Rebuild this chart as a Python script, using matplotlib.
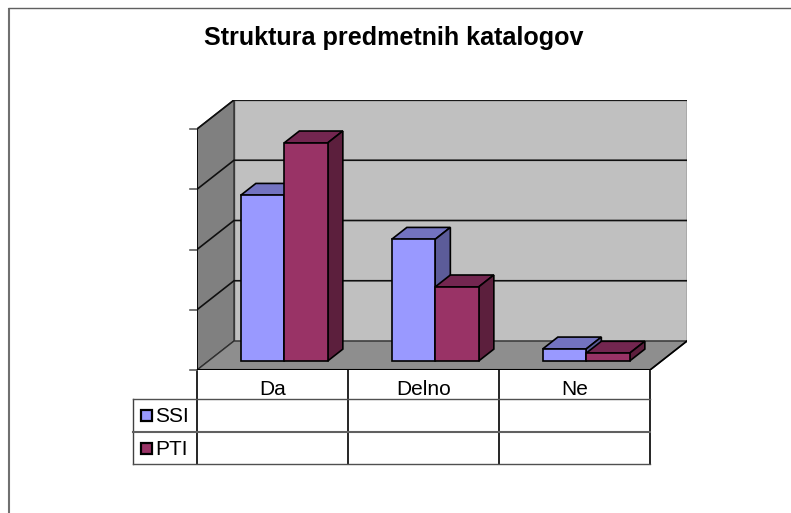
import matplotlib
matplotlib.use('Agg')
import matplotlib.pyplot as plt
from matplotlib.patches import Polygon, Rectangle

plt.rcParams['font.family'] = ['Liberation Sans', 'DejaVu Sans']

# Values (the value axis has no labels)
categories = ['Da', 'Delno', 'Ne']
series_names = ['SSI', 'PTI']
ssi = [27.5, 20.2, 2.0]
pti = [36.2, 12.3, 1.3]
grid_values = [0, 10, 20, 30, 40]

# Colours: front, top, side
ssi_colors = ('#9999FF', '#7373C0', '#5C5C99')
pti_colors = ('#993366', '#732650', '#5C1F3D')

# Oblique projection: depth 1 moves this far in data units
depth_dx = 37 / 151
depth_dy = 29 / 6.025
bar_depth_front = 0.31
bar_depth_back = 0.72
bar_offset = 32.2 / 151
bar_width = 43.5 / 151


def proj(x, y, d=0.0):
    return (x + d * depth_dx, y + d * depth_dy)


def quad(ax, pts, color, ec='black', lw=1.2, z=1):
    ax.add_patch(Polygon(pts, closed=True, facecolor=color, edgecolor=ec,
                         linewidth=lw, joinstyle='miter', zorder=z))


def draw_bar(ax, x0, value, colors, z):
    x1 = x0 + bar_width
    d0, d1 = bar_depth_front, bar_depth_back
    quad(ax, [proj(x0, value, d0), proj(x1, value, d0), proj(x1, value, d1), proj(x0, value, d1)], colors[1], z=z)
    quad(ax, [proj(x1, 0, d0), proj(x1, value, d0), proj(x1, value, d1), proj(x1, 0, d1)], colors[2], z=z)
    quad(ax, [proj(x0, 0, d0), proj(x1, 0, d0), proj(x1, value, d0), proj(x0, value, d0)], colors[0], z=z)


fig = plt.figure(figsize=(7.91, 5.13), dpi=100)

# Pixel layer for the frame, title and table
px = fig.add_axes([0, 0, 1, 1])
px.set_xlim(0, 791)
px.set_ylim(513, 0)
px.axis('off')

px.plot([8.7, 8.7], [8, 513], color='#707070', lw=1.5, solid_capstyle='butt')
px.plot([8, 791], [8.3, 8.3], color='#606060', lw=1.0, solid_capstyle='butt')

px.text(394, 38.5, 'Struktura predmetnih katalogov', fontsize=18.1, fontweight='bold',
        ha='center', va='center', color='black')

# Chart layer: x in categories, y in values, front plane at 197..650 / 370..129
ax = fig.add_axes([197 / 791, 1 - 370 / 513, 490 / 791, 270 / 513])
ax.set_xlim(0, 490 / 151)
ax.set_ylim(0, 270 / 6.025)
ax.axis('off')

n = len(categories)
top = grid_values[-1]

# back wall, left wall, floor
quad(ax, [proj(0, 0, 1), proj(n, 0, 1), proj(n, top, 1), proj(0, top, 1)], '#C0C0C0', ec='#505050', lw=1.0)
quad(ax, [proj(0, 0, 0), proj(0, 0, 1), proj(0, top, 1), proj(0, top, 0)], '#808080', ec='#303030', lw=1.0)
quad(ax, [proj(0, 0, 0), proj(n, 0, 0), proj(n, 0, 1), proj(0, 0, 1)], '#8E8E8E', ec='#303030', lw=1.0)

# gridlines and tick marks
for g in grid_values:
    xs, ys = zip(proj(0, g, 0), proj(0, g, 1), proj(n, g, 1))
    if g > 0:
        ax.plot(xs, ys, color='#101010', lw=1.2, solid_joinstyle='miter', zorder=2)
    ax.plot([-7 / 151, 0], [g, g], color='#606060', lw=1.2, clip_on=False, zorder=2)

# right edge of the floor and front edge
ax.plot(*zip(proj(n, 0, 0), proj(n, 0, 1)), color='black', lw=1.2, zorder=2)
ax.plot(*zip(proj(0, 0, 0), proj(n, 0, 0)), color='black', lw=1.5, zorder=2)
ax.plot(*zip(proj(0, 0, 0), proj(0, top, 0)), color='black', lw=1.2, zorder=2)

# bars
for i in range(n):
    draw_bar(ax, i + bar_offset, ssi[i], ssi_colors, 3)
    draw_bar(ax, i + bar_offset + bar_width, pti[i], pti_colors, 4)

# table below the chart
col_x = [197, 348, 499, 650]
row_y = [370, 399, 432, 464]
left_x = 133

for x in col_x:
    px.plot([x, x], [row_y[0], row_y[-1]], color='black', lw=1.2)
px.plot([left_x, left_x], [row_y[1], row_y[-1]], color='#404040', lw=1.0)
px.plot([left_x, col_x[-1]], [row_y[1], row_y[1]], color='#505050', lw=1.0)
px.plot([left_x, col_x[-1]], [row_y[2], row_y[2]], color='#606060', lw=1.5)
px.plot([left_x, col_x[-1]], [row_y[3], row_y[3]], color='#505050', lw=1.0)

for i, name in enumerate(categories):
    px.text((col_x[i] + col_x[i + 1]) / 2, 389.5, name, fontsize=15, ha='center', va='center', color='black')

key_colors = [ssi_colors[0], pti_colors[0]]
for i, name in enumerate(series_names):
    ymid = (row_y[i + 1] + row_y[i + 2]) / 2
    px.add_patch(Rectangle((141, ymid - 5.5), 10.5, 11, facecolor=key_colors[i],
                           edgecolor='black', linewidth=1.6))
    px.text(155.5, ymid + 1.5, name, fontsize=15, ha='left', va='center', color='black')

fig.savefig('out.png', dpi=100)
